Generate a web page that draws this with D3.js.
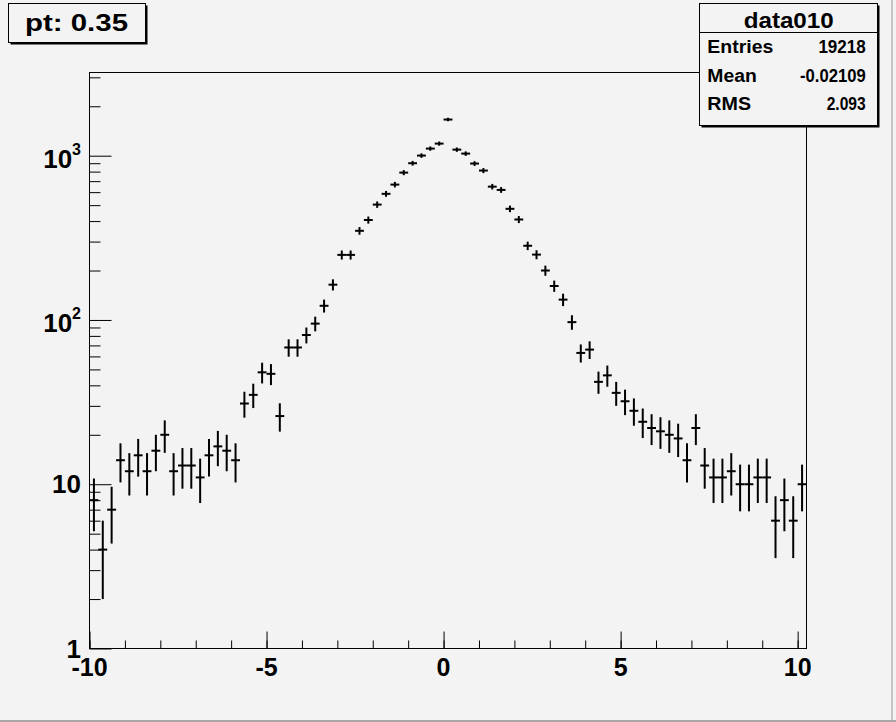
<!DOCTYPE html>
<html>
<head>
<meta charset="utf-8">
<script src="https://cdn.jsdelivr.net/npm/d3@7"></script>
<style>
  html, body { margin: 0; padding: 0; background: #f3f3f3; }
  svg { display: block; }
  text { font-family: "Liberation Sans", Arial, Helvetica, sans-serif; font-weight: bold; fill: #000; }
</style>
</head>
<body>
<div id="chart"></div>
<script>
// ---- data ----
const binLow = -10;
const binWidth = 0.25;
const counts = [
  8, 4, 7, 14, 12, 15, 12, 16, 20, 12,
  13, 13, 11, 15, 17, 16, 14, 31, 35, 48,
  47, 26, 68, 68, 81, 95, 122, 164, 249, 249,
  349, 406, 504, 586, 667, 789, 900, 1002, 1105, 1185,
  1660, 1089, 1030, 896, 812, 648, 619, 475, 409, 283,
  250, 200, 161, 133, 97, 63, 66, 42, 46, 36,
  32, 28, 24, 22, 21, 20, 19, 14, 22, 13,
  11, 11, 12, 10, 10, 11, 11, 6, 8, 6,
  10
];
const xMajorTicks = [-10, -5, 0, 5, 10];
const xMinorTicks = [-10, -9, -8, -7, -6, -5, -4, -3, -2, -1, 0, 1, 2, 3, 4, 5, 6, 7, 8, 9, 10];
const yMajorTicks = [1, 10, 100, 1000];
const yMinorTicks = [2,3,4,5,6,7,8,9,20,30,40,50,60,70,80,90,200,300,400,500,600,700,800,900,2000,3000];
const titleText = "pt: 0.35";
const statsTitle = "data010";
const statsLabels = ["Entries", "Mean", "RMS"];
const statsValues = ["19218", "-0.02109", "2.093"];

// ---- layout ----
const W = 896, H = 722;
const svg = d3.select("#chart").append("svg").attr("width", W).attr("height", H);
svg.append("rect").attr("width", W).attr("height", H).attr("fill", "#f3f3f3");

const x = d3.scaleLinear().domain([-10, 10.25]).range([89.5, 806.5]);
const y = d3.scaleLog().domain([1, 3210]).range([648.5, 72.5]);

// frame
svg.append("rect")
  .attr("x", 89.5).attr("y", 72.5)
  .attr("width", 717).attr("height", 576)
  .attr("fill", "#f3f3f3").attr("stroke", "#000").attr("stroke-width", 1);

// axes (ticks inside)
function styleAxis(g) {
  g.select(".domain").remove();
  g.selectAll(".tick line").attr("stroke", "#000").attr("stroke-width", 1);
  g.selectAll(".tick text").remove();
}
svg.append("g").attr("transform", "translate(0,648.5)")
  .call(d3.axisBottom(x).tickValues(xMinorTicks).tickSize(-8).tickFormat(""))
  .call(styleAxis);
svg.append("g").attr("transform", "translate(0,648.5)")
  .call(d3.axisBottom(x).tickValues(xMajorTicks).tickSize(-17).tickFormat(""))
  .call(styleAxis);
svg.append("g").attr("transform", "translate(89.5,0)")
  .call(d3.axisLeft(y).tickValues(yMinorTicks).tickSize(-11).tickFormat(""))
  .call(styleAxis);
svg.append("g").attr("transform", "translate(89.5,0)")
  .call(d3.axisLeft(y).tickValues(yMajorTicks).tickSize(-22).tickFormat(""))
  .call(styleAxis);

// x labels
svg.append("g").selectAll("text").data(xMajorTicks).join("text")
  .attr("x", d => x(d)).attr("y", 676)
  .attr("text-anchor", "middle")
  .attr("font-size", 25)
  .text(d => d);

// y labels
const yl = svg.append("g");
yMajorTicks.forEach(v => {
  const e = Math.round(Math.log10(v));
  if (e <= 1) {
    yl.append("text").attr("x", 81).attr("y", y(v) + 9)
      .attr("text-anchor", "end").attr("font-size", 26).text(v);
  } else {
    const t = yl.append("text").attr("x", 81).attr("y", y(v) + 12.5)
      .attr("text-anchor", "end").attr("font-size", 26);
    t.append("tspan").text("10");
    t.append("tspan").attr("font-size", 16).attr("dy", -13).text(e);
  }
});

// data: error-bar crosses
const pts = counts.map((c, i) => ({ c: binLow + binWidth * (i + 0.5), v: c }));
const g = svg.append("g").attr("stroke", "#000").attr("stroke-width", 2);
g.selectAll("line.h").data(pts).join("line").attr("class", "h")
  .attr("x1", d => x(d.c - binWidth / 2)).attr("x2", d => x(d.c + binWidth / 2))
  .attr("y1", d => y(d.v)).attr("y2", d => y(d.v));
g.selectAll("line.v").data(pts).join("line").attr("class", "v")
  .attr("x1", d => x(d.c)).attr("x2", d => x(d.c))
  .attr("y1", d => y(d.v + Math.sqrt(d.v))).attr("y2", d => y(Math.max(1, d.v - Math.sqrt(d.v))));

// title box
svg.append("rect").attr("x", 10.5).attr("y", 5.5).attr("width", 137).attr("height", 39).attr("fill", "#000");
svg.append("rect").attr("x", 8.5).attr("y", 3.5).attr("width", 137).attr("height", 39)
  .attr("fill", "#f3f3f3").attr("stroke", "#000").attr("stroke-width", 1);
svg.append("text").attr("x", 76.5).attr("y", 31).attr("text-anchor", "middle")
  .attr("font-size", 24).attr("textLength", 103).attr("lengthAdjust", "spacingAndGlyphs")
  .text(titleText);

// stats box
svg.append("rect").attr("x", 701.5).attr("y", 5.5).attr("width", 178).attr("height", 122).attr("fill", "#000");
svg.append("rect").attr("x", 699.5).attr("y", 3.5).attr("width", 178).attr("height", 122)
  .attr("fill", "#f3f3f3").attr("stroke", "#000").attr("stroke-width", 1);
svg.append("line").attr("x1", 699.5).attr("x2", 877.5).attr("y1", 32.5).attr("y2", 32.5)
  .attr("stroke", "#000").attr("stroke-width", 1);
svg.append("text").attr("x", 788.7).attr("y", 28).attr("text-anchor", "middle")
  .attr("font-size", 22).attr("textLength", 90).attr("lengthAdjust", "spacingAndGlyphs")
  .text(statsTitle);
const labelW = [66, 49.4, 43.7];
const valueW = [47.3, 65.7, 39];
const rowY = [53.3, 81.7, 110];
statsLabels.forEach((s, i) => {
  svg.append("text").attr("x", 707.3).attr("y", rowY[i]).attr("font-size", 18)
    .attr("textLength", labelW[i]).attr("lengthAdjust", "spacingAndGlyphs").text(s);
  svg.append("text").attr("x", 865.7 - valueW[i]).attr("y", rowY[i]).attr("font-size", 19)
    .attr("textLength", valueW[i]).attr("lengthAdjust", "spacingAndGlyphs").text(statsValues[i]);
});

// canvas border
svg.append("rect").attr("x", 0).attr("y", 720).attr("width", W).attr("height", 2).attr("fill", "#a8a8a8");
svg.append("rect").attr("x", 891).attr("y", 0).attr("width", 2).attr("height", 720).attr("fill", "#c4c4c4");
</script>
</body>
</html>
